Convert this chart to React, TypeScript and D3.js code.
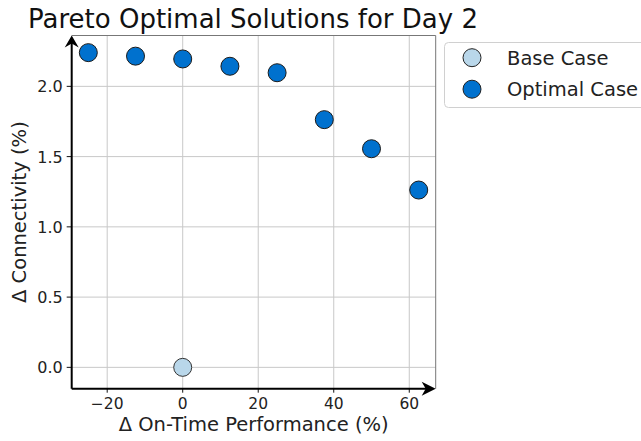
import * as d3 from "d3";

const baseX = [0];
const baseY = [0];
const optX = [-25, -12.5, 0, 12.5, 25, 37.5, 50, 62.5];
const optY = [2.24, 2.215, 2.195, 2.143, 2.097, 1.763, 1.556, 1.262];
const xTicks = [-20, 0, 20, 40, 60];
const yTicks = [0, 0.5, 1.0, 1.5, 2.0];
const legendLabels = ["Base Case", "Optimal Case"];

const W = 641;
const H = 441;
const left = 71.7;
const right = 435.7;
const top = 35.5;
const bottom = 388.7;
const font = "'DejaVu Sans', sans-serif";

export default function App() {
  const x = d3.scaleLinear().domain([-29.4, 67]).range([left, right]);
  const y = d3.scaleLinear().domain([-0.152, 2.362]).range([bottom, top]);
  const colors = ["#b9d7ea", "#0071ce"];

  return (
    <div style={{ position: "fixed", left: 0, top: 0 }}>
      <svg width={W} height={H} style={{ display: "block", background: "#fff" }}>
        <text x={253} y={28} textAnchor="middle" fontFamily={font} fontSize={26} fill="#111">
          Pareto Optimal Solutions for Day 2
        </text>

        {/* grid */}
        {xTicks.map((t) => (
          <line key={"gx" + t} x1={x(t)} x2={x(t)} y1={top} y2={bottom} stroke="#c8c8c8" strokeWidth={1} />
        ))}
        {yTicks.map((t) => (
          <line key={"gy" + t} x1={left} x2={right} y1={y(t)} y2={y(t)} stroke="#c8c8c8" strokeWidth={1} />
        ))}

        {/* thin box */}
        <line x1={left} x2={right} y1={top} y2={top} stroke="#777" strokeWidth={1} />
        <line x1={right} x2={right} y1={top} y2={bottom} stroke="#777" strokeWidth={1} />

        {/* ticks */}
        {xTicks.map((t) => (
          <g key={"tx" + t}>
            <line x1={x(t)} x2={x(t)} y1={bottom} y2={bottom + 4} stroke="#111" />
            <text x={x(t)} y={409} textAnchor="middle" fontFamily={font} fontSize={15.5} fill="#222">
              {d3.format("")(t).replace("-", "\u2212")}
            </text>
          </g>
        ))}
        {yTicks.map((t) => (
          <g key={"ty" + t}>
            <line x1={left - 5} x2={left} y1={y(t)} y2={y(t)} stroke="#111" />
            <text x={left - 9} y={y(t) + 6} textAnchor="end" fontFamily={font} fontSize={16} fill="#222">
              {d3.format(".1f")(t)}
            </text>
          </g>
        ))}

        {/* axis spines with arrows */}
        <line x1={left} x2={left} y1={bottom} y2={top + 6} stroke="#000" strokeWidth={2} />
        <line x1={left} x2={right - 6} y1={bottom} y2={bottom} stroke="#000" strokeWidth={2} />
        <path d={`M${left},${top} L${left - 7},${top + 12} L${left},${top + 8} L${left + 7},${top + 12} Z`} fill="#000" />
        <path d={`M${right},${bottom} L${right - 14},${bottom - 7} L${right - 10},${bottom} L${right - 14},${bottom + 7} Z`} fill="#000" />

        {/* points */}
        {baseX.map((v, i) => (
          <circle key={"b" + i} cx={x(v)} cy={y(baseY[i])} r={9} fill={colors[0]} stroke="#333" strokeWidth={1} />
        ))}
        {optX.map((v, i) => (
          <circle key={"o" + i} cx={x(v)} cy={y(optY[i])} r={9} fill={colors[1]} stroke="#1a1a1a" strokeWidth={1} />
        ))}

        {/* axis labels */}
        <text x={(left + right) / 2} y={431} textAnchor="middle" fontFamily={font} fontSize={19.5} fill="#222">
          Δ On-Time Performance (%)
        </text>
        <text
          transform={`translate(26,${(top + bottom) / 2}) rotate(-90)`}
          textAnchor="middle"
          fontFamily={font}
          fontSize={19.5}
          fill="#222"
        >
          Δ Connectivity (%)
        </text>

        {/* legend */}
        <rect x={444.5} y={42.5} width={210} height={65} rx={4} fill="#fff" stroke="#d0d0d0" strokeWidth={1} />
        {legendLabels.map((lab, i) => (
          <g key={lab}>
            <circle cx={472} cy={57.7 + i * 31.5} r={9} fill={colors[i]} stroke="#222" strokeWidth={1} />
            <text x={507} y={57.7 + i * 31.5 + 7} fontFamily={font} fontSize={19.5} fill="#222">
              {lab}
            </text>
          </g>
        ))}
      </svg>
    </div>
  );
}
